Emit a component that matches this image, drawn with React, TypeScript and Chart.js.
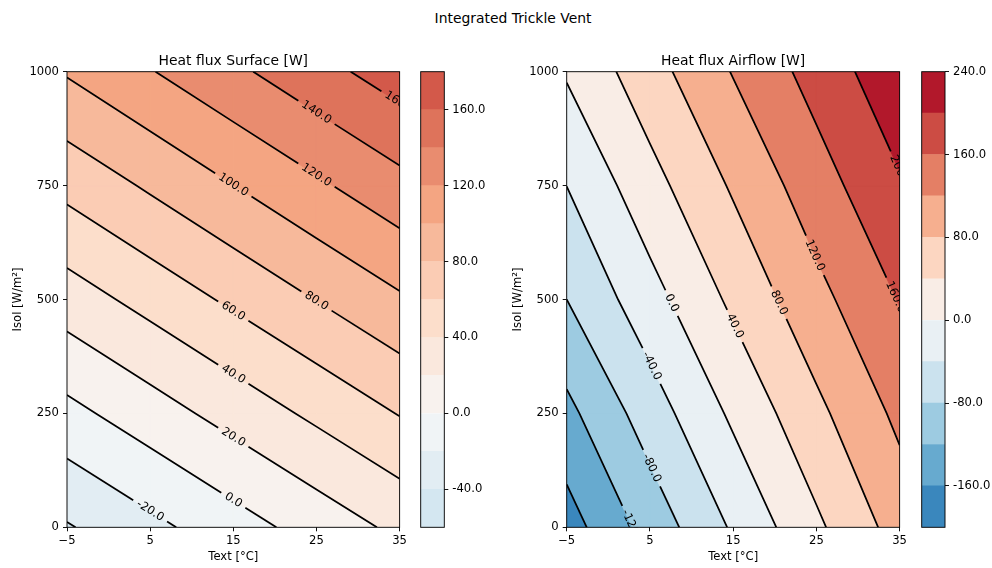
import React, { useEffect, useRef } from 'react';
import { Chart, registerables } from 'chart.js';

Chart.register(...registerables);

// ---------------- data ----------------
const textValues = [-5, 5, 15, 25, 35]; // Text [°C] grid
const isolValues = [0, 250, 500, 750, 1000]; // Isol [W/m²] grid

// rows follow isolValues, columns follow textValues
const surfaceFlux = [
  [-41.7, -25.2, -8.6, 8.0, 24.5],
  [-5.8, 10.9, 27.6, 44.2, 60.9],
  [30.1, 46.9, 63.7, 80.5, 97.3],
  [65.9, 82.8, 99.8, 116.7, 133.6],
  [101.8, 118.9, 135.9, 153.0, 170.0],
];
const airflowFlux = [
  [-177.6, -104.5, -35.0, 32.5, 96.5],
  [-130.8, -60.0, 7.3, 70.4, 129.1],
  [-80.0, -15.2, 48.3, 107.8, 162.0],
  [-39.7, 25.8, 84.9, 142.3, 195.8],
  [4.2, 64.3, 122.2, 175.4, 228.5],
];

const surfaceLevels = [-60, -40, -20, 0, 20, 40, 60, 80, 100, 120, 140, 160, 180];
const airflowLevels = [-200, -160, -120, -80, -40, 0, 40, 80, 120, 160, 200, 240];

const xTickValues = [-5, 5, 15, 25, 35];
const yTickValues = [0, 250, 500, 750, 1000];
const surfaceCbarTicks = [-40, 0, 40, 80, 120, 160];
const airflowCbarTicks = [-160, -80, 0, 80, 160, 240];

// ---------------- layout / style ----------------
const FONT = "'DejaVu Sans', sans-serif";
const TICK_SIZE = 11.6;
const TITLE_SIZE = 13.9;
const LINE_W = 1.74;
const SPINE_W = 0.93;
const PLOT_TOP = 71.7;
const PLOT_BOTTOM = 527.3;
const CANVAS_H = 568;
const COLOR_LIMIT = 275;
const RDBU_R = ['#053061', '#2166ac', '#4393c3', '#92c5de', '#d1e5f0', '#f7f7f7', '#fddbc7', '#f4a582', '#d6604d', '#b2182b', '#67001f'];

// label anchors (Text value along each contour where its label sits)
const surfaceLabelAt: Record<string, number> = {
  '-20': 5, '0': 15, '20': 15, '40': 15, '60': 15, '80': 25, '100': 15, '120': 25, '140': 25, '160': 35,
};
const airflowLabelAt: Record<string, number> = {
  '-120': 3, '-80': 5.2, '-40': 5.2, '0': 7.6, '40': 15.2, '80': 20.5, '120': 24.8, '160': 34.5, '200': 35,
};

type Pt = { x: number; y: number };
type PV = { x: number; y: number; v: number };

function hexToRgb(h: string) {
  return [parseInt(h.slice(1, 3), 16), parseInt(h.slice(3, 5), 16), parseInt(h.slice(5, 7), 16)];
}
function rdbuR(p: number) {
  const q = Math.max(0, Math.min(1, p)) * 10;
  const i = Math.min(9, Math.floor(q));
  const f = q - i;
  const a = hexToRgb(RDBU_R[i]);
  const b = hexToRgb(RDBU_R[i + 1]);
  const c = a.map((v, k) => Math.round(v + (b[k] - v) * f));
  return `rgb(${c[0]},${c[1]},${c[2]})`;
}
function bandColor(lo: number, hi: number) {
  return rdbuR(((lo + hi) / 2 + COLOR_LIMIT) / (2 * COLOR_LIMIT));
}

function buildCells(rows: number[][]): PV[][] {
  const cells: PV[][] = [];
  for (let j = 0; j < isolValues.length - 1; j++) {
    for (let i = 0; i < textValues.length - 1; i++) {
      cells.push([
        { x: textValues[i], y: isolValues[j], v: rows[j][i] },
        { x: textValues[i + 1], y: isolValues[j], v: rows[j][i + 1] },
        { x: textValues[i + 1], y: isolValues[j + 1], v: rows[j + 1][i + 1] },
        { x: textValues[i], y: isolValues[j + 1], v: rows[j + 1][i] },
      ]);
    }
  }
  return cells;
}

function clipPoly(poly: PV[], level: number, keepAbove: boolean): PV[] {
  const out: PV[] = [];
  const inside = (p: PV) => (keepAbove ? p.v >= level : p.v <= level);
  for (let k = 0; k < poly.length; k++) {
    const cur = poly[k];
    const prev = poly[(k + poly.length - 1) % poly.length];
    const ci = inside(cur);
    const pi = inside(prev);
    if (ci !== pi) {
      const t = (level - prev.v) / (cur.v - prev.v);
      out.push({ x: prev.x + t * (cur.x - prev.x), y: prev.y + t * (cur.y - prev.y), v: level });
    }
    if (ci) out.push(cur);
  }
  return out;
}

function contourLines(cells: PV[][], L: number): Pt[][] {
  const segs: Pt[][] = [];
  for (const c of cells) {
    const pts: Pt[] = [];
    for (let k = 0; k < 4; k++) {
      const a = c[k];
      const b = c[(k + 1) % 4];
      if (a.v < L !== b.v < L) {
        const t = (L - a.v) / (b.v - a.v);
        pts.push({ x: a.x + t * (b.x - a.x), y: a.y + t * (b.y - a.y) });
      }
    }
    if (pts.length === 2) segs.push(pts);
    else if (pts.length === 4) {
      segs.push([pts[0], pts[1]]);
      segs.push([pts[2], pts[3]]);
    }
  }
  const key = (p: Pt) => `${p.x.toFixed(4)}|${p.y.toFixed(4)}`;
  const used = segs.map(() => false);
  const idx = new Map<string, number[]>();
  segs.forEach((s, i) =>
    s.forEach((p) => {
      const k = key(p);
      if (!idx.has(k)) idx.set(k, []);
      idx.get(k)!.push(i);
    })
  );
  const lines: Pt[][] = [];
  for (let i = 0; i < segs.length; i++) {
    if (used[i]) continue;
    used[i] = true;
    const line = [segs[i][0], segs[i][1]];
    const grow = (atEnd: boolean) => {
      for (;;) {
        const p = atEnd ? line[line.length - 1] : line[0];
        const cand = (idx.get(key(p)) || []).find((j) => !used[j]);
        if (cand === undefined) return;
        used[cand] = true;
        const s = segs[cand];
        const other = key(s[0]) === key(p) ? s[1] : s[0];
        if (atEnd) line.push(other);
        else line.unshift(other);
      }
    };
    grow(true);
    grow(false);
    lines.push(line);
  }
  return lines;
}

function placeLabel(line: Pt[], ax: number, xs: any, ys: any, halfGap: number) {
  const px = line.map((p) => ({ x: xs.getPixelForValue(p.x), y: ys.getPixelForValue(p.y) }));
  const cum = [0];
  for (let k = 1; k < px.length; k++) cum.push(cum[k - 1] + Math.hypot(px[k].x - px[k - 1].x, px[k].y - px[k - 1].y));
  const total = cum[cum.length - 1];
  let k0 = -1;
  let t0 = 0;
  for (let k = 0; k < line.length - 1; k++) {
    const a = line[k].x;
    const b = line[k + 1].x;
    if (a !== b && (a - ax) * (b - ax) <= 0) {
      k0 = k;
      t0 = (ax - a) / (b - a);
      break;
    }
  }
  if (k0 < 0) {
    const n = line.length;
    if (Math.abs(line[0].x - ax) <= Math.abs(line[n - 1].x - ax)) {
      k0 = 0;
      t0 = 0;
    } else {
      k0 = n - 2;
      t0 = 1;
    }
  }
  const s0 = cum[k0] + t0 * (cum[k0 + 1] - cum[k0]);
  const at = (s: number): Pt => {
    let k = 0;
    while (k < cum.length - 2 && cum[k + 1] < s) k++;
    const len = cum[k + 1] - cum[k] || 1;
    const tt = Math.max(0, Math.min(1, (s - cum[k]) / len));
    return { x: line[k].x + tt * (line[k + 1].x - line[k].x), y: line[k].y + tt * (line[k + 1].y - line[k].y) };
  };
  const sub = (a: number, b: number): Pt[] => {
    const s1 = Math.max(0, a);
    const s2 = Math.min(total, b);
    if (s2 - s1 < 1e-6) return [];
    const out = [at(s1)];
    for (let k = 0; k < cum.length; k++) if (cum[k] > s1 && cum[k] < s2) out.push(line[k]);
    out.push(at(s2));
    return out;
  };
  const dx = px[k0 + 1].x - px[k0].x;
  const dy = px[k0 + 1].y - px[k0].y;
  let ang = Math.atan2(dy, dx);
  if (ang > Math.PI / 2) ang -= Math.PI;
  if (ang < -Math.PI / 2) ang += Math.PI;
  return { center: at(s0), angle: ang, pieces: [sub(0, s0 - halfGap), sub(s0 + halfGap, total)] };
}

type Spec = {
  rows: number[][];
  levels: number[];
  cbTicks: number[];
  title: string;
  labelAt: Record<string, number>;
  yWidth: number;
};

function fmtTick(v: number) {
  return v < 0 ? '\u2212' + Math.abs(v) : String(v);
}

function makeContourChart(canvas: HTMLCanvasElement, spec: Spec) {
  const cells = buildCells(spec.rows);
  const bands: { color: string; polys: PV[][] }[] = [];
  for (let b = 0; b < spec.levels.length - 1; b++) {
    const lo = spec.levels[b];
    const hi = spec.levels[b + 1];
    const polys = cells.map((c) => clipPoly(clipPoly(c, lo, true), hi, false)).filter((p) => p.length >= 3);
    bands.push({ color: bandColor(lo, hi), polys });
  }
  const labels: { p: Pt; angle: number; text: string }[] = [];
  const labelFont = `${TICK_SIZE}px ${FONT}`;

  const plugin = {
    id: 'contourLayers',
    beforeDatasetsDraw(chart: any) {
      const { ctx, chartArea: a, scales } = chart;
      const xs = scales.x;
      const ys = scales.y;
      ctx.save();
      ctx.beginPath();
      ctx.rect(a.left, a.top, a.right - a.left, a.bottom - a.top);
      ctx.clip();
      ctx.lineWidth = 1;
      ctx.lineJoin = 'round';
      for (const band of bands) {
        ctx.fillStyle = band.color;
        ctx.strokeStyle = band.color;
        for (const poly of band.polys) {
          ctx.beginPath();
          poly.forEach((p, i) => {
            const X = xs.getPixelForValue(p.x);
            const Y = ys.getPixelForValue(p.y);
            if (i) ctx.lineTo(X, Y);
            else ctx.moveTo(X, Y);
          });
          ctx.closePath();
          ctx.fill();
          ctx.stroke();
        }
      }
      ctx.restore();
    },
    afterDatasetsDraw(chart: any) {
      const { ctx, chartArea: a, scales } = chart;
      ctx.save();
      ctx.beginPath();
      ctx.rect(a.left, a.top, a.right - a.left, a.bottom - a.top);
      ctx.clip();
      ctx.font = labelFont;
      ctx.fillStyle = '#000';
      ctx.textAlign = 'center';
      ctx.textBaseline = 'middle';
      for (const l of labels) {
        ctx.save();
        ctx.translate(scales.x.getPixelForValue(l.p.x), scales.y.getPixelForValue(l.p.y));
        ctx.rotate(l.angle);
        ctx.fillText(l.text, 0, 0);
        ctx.restore();
      }
      ctx.restore();
      ctx.save();
      ctx.strokeStyle = '#000';
      ctx.lineWidth = SPINE_W;
      ctx.strokeRect(a.left, a.top, a.right - a.left, a.bottom - a.top);
      ctx.font = `${TITLE_SIZE}px ${FONT}`;
      ctx.fillStyle = '#000';
      ctx.textAlign = 'center';
      ctx.textBaseline = 'alphabetic';
      ctx.fillText(spec.title, (a.left + a.right) / 2, a.top - 6.5);
      ctx.restore();
    },
  };

  const tickFont = { family: FONT, size: TICK_SIZE };
  const chart = new Chart(canvas, {
    type: 'scatter',
    data: { datasets: [] },
    options: {
      responsive: false,
      animation: false,
      events: [],
      layout: { padding: { left: 0, right: 10, top: PLOT_TOP, bottom: 0 } },
      plugins: { legend: { display: false }, tooltip: { enabled: false }, title: { display: false } },
      scales: {
        x: {
          type: 'linear',
          min: xTickValues[0],
          max: xTickValues[xTickValues.length - 1],
          offset: false,
          afterBuildTicks: (s: any) => {
            s.ticks = xTickValues.map((v) => ({ value: v }));
          },
          afterFit: (s: any) => {
            s.height = CANVAS_H - PLOT_BOTTOM;
          },
          ticks: { callback: (v: any) => fmtTick(Number(v)), font: tickFont, color: '#000', padding: 3, maxRotation: 0, autoSkip: false },
          grid: { drawOnChartArea: false, drawTicks: true, tickLength: 4, color: '#000', lineWidth: SPINE_W },
          border: { display: false },
          title: { display: true, text: 'Text [°C]', font: tickFont, color: '#000', padding: { top: 0, bottom: 4.3 } },
        },
        y: {
          type: 'linear',
          min: yTickValues[0],
          max: yTickValues[yTickValues.length - 1],
          offset: false,
          afterBuildTicks: (s: any) => {
            s.ticks = yTickValues.map((v) => ({ value: v }));
          },
          afterFit: (s: any) => {
            s.width = spec.yWidth;
          },
          ticks: { callback: (v: any) => fmtTick(Number(v)), font: tickFont, color: '#000', padding: 4, autoSkip: false },
          grid: { drawOnChartArea: false, drawTicks: true, tickLength: 4, color: '#000', lineWidth: SPINE_W },
          border: { display: false },
          title: { display: true, text: 'Isol [W/m²]', font: tickFont, color: '#000', padding: { top: 10.7, bottom: 0 } },
        },
      },
    },
    plugins: [plugin],
  } as any);

  // second pass: contour lines with inline label gaps (needs the scales)
  const xs: any = chart.scales.x;
  const ys: any = chart.scales.y;
  const ctx = chart.ctx;
  ctx.save();
  ctx.font = labelFont;
  const datasets: any[] = [];
  for (const level of spec.levels) {
    const lines = contourLines(cells, level);
    for (const line of lines) {
      if (line.length < 2) continue;
      const anchor = spec.labelAt[String(level)];
      let pieces: Pt[][] = [line];
      if (anchor !== undefined) {
        const text = level.toFixed(1);
        const half = ctx.measureText(text).width / 2 + 5;
        const res = placeLabel(line, anchor, xs, ys, half);
        labels.push({ p: res.center, angle: res.angle, text });
        pieces = res.pieces;
      }
      for (const piece of pieces) {
        if (piece.length < 2) continue;
        datasets.push({
          data: piece,
          showLine: true,
          borderColor: '#000',
          backgroundColor: '#000',
          borderWidth: LINE_W,
          pointRadius: 0,
          pointHoverRadius: 0,
          fill: false,
          tension: 0,
          clip: 0,
        });
      }
    }
  }
  ctx.restore();
  chart.data.datasets = datasets;
  chart.update();
  return chart;
}

function makeColorbar(canvas: HTMLCanvasElement, spec: Spec, padLeft: number, yWidth: number) {
  const levels = spec.levels;
  const datasets = [];
  for (let b = 0; b < levels.length - 1; b++) {
    datasets.push({
      data: [[levels[b], levels[b + 1]]],
      backgroundColor: bandColor(levels[b], levels[b + 1]),
      borderWidth: 0,
      barPercentage: 1,
      categoryPercentage: 1,
      grouped: false,
    });
  }
  const frame = {
    id: 'cbFrame',
    afterDatasetsDraw(chart: any) {
      const { ctx, chartArea: a } = chart;
      ctx.save();
      ctx.strokeStyle = '#000';
      ctx.lineWidth = SPINE_W;
      ctx.strokeRect(a.left, a.top, a.right - a.left, a.bottom - a.top);
      ctx.restore();
    },
  };
  return new Chart(canvas, {
    type: 'bar',
    data: { labels: [''], datasets },
    options: {
      responsive: false,
      animation: false,
      events: [],
      layout: { padding: { left: padLeft, right: 0, top: PLOT_TOP, bottom: CANVAS_H - PLOT_BOTTOM } },
      plugins: { legend: { display: false }, tooltip: { enabled: false }, title: { display: false } },
      scales: {
        x: { display: false },
        y: {
          position: 'right',
          min: levels[0],
          max: levels[levels.length - 1],
          afterBuildTicks: (s: any) => {
            s.ticks = spec.cbTicks.map((v) => ({ value: v }));
          },
          afterFit: (s: any) => {
            s.width = yWidth;
          },
          ticks: { callback: (v: any) => Number(v).toFixed(1), font: { family: FONT, size: TICK_SIZE }, color: '#000', padding: 4, autoSkip: false },
          grid: { drawOnChartArea: false, drawTicks: true, tickLength: 4, color: '#000', lineWidth: SPINE_W },
          border: { display: false },
        },
      },
    },
    plugins: [frame],
  } as any);
}

const surfaceSpec: Spec = {
  rows: surfaceFlux,
  levels: surfaceLevels,
  cbTicks: surfaceCbarTicks,
  title: 'Heat flux Surface [W]',
  labelAt: surfaceLabelAt,
  yWidth: 67,
};
const airflowSpec: Spec = {
  rows: airflowFlux,
  levels: airflowLevels,
  cbTicks: airflowCbarTicks,
  title: 'Heat flux Airflow [W]',
  labelAt: airflowLabelAt,
  yWidth: 66.7,
};

export default function App() {
  const c1 = useRef<HTMLCanvasElement>(null);
  const c2 = useRef<HTMLCanvasElement>(null);
  const c3 = useRef<HTMLCanvasElement>(null);
  const c4 = useRef<HTMLCanvasElement>(null);

  useEffect(() => {
    Chart.defaults.font.family = FONT;
    const charts = [
      makeContourChart(c1.current!, surfaceSpec),
      makeColorbar(c2.current!, surfaceSpec, 10.7, 47.7),
      makeContourChart(c3.current!, airflowSpec),
      makeColorbar(c4.current!, airflowSpec, 11.7, 47),
    ];
    return () => charts.forEach((c) => c.destroy());
  }, []);

  const abs = (left: number): React.CSSProperties => ({ position: 'absolute', left, top: 0 });
  return (
    <div style={{ position: 'absolute', left: 0, top: 0, width: 992, height: 568, background: '#fff', overflow: 'hidden' }}>
      <div
        style={{
          position: 'absolute',
          left: 313,
          top: 11,
          width: 400,
          textAlign: 'center',
          fontFamily: FONT,
          fontSize: TITLE_SIZE,
          lineHeight: '14px',
          color: '#000',
          whiteSpace: 'nowrap',
        }}
      >
        Integrated Trickle Vent
      </div>
      <canvas ref={c1} width={410} height={568} style={abs(0)} />
      <canvas ref={c2} width={82} height={568} style={abs(410)} />
      <canvas ref={c3} width={410} height={568} style={abs(500)} />
      <canvas ref={c4} width={82} height={568} style={abs(910)} />
    </div>
  );
}
